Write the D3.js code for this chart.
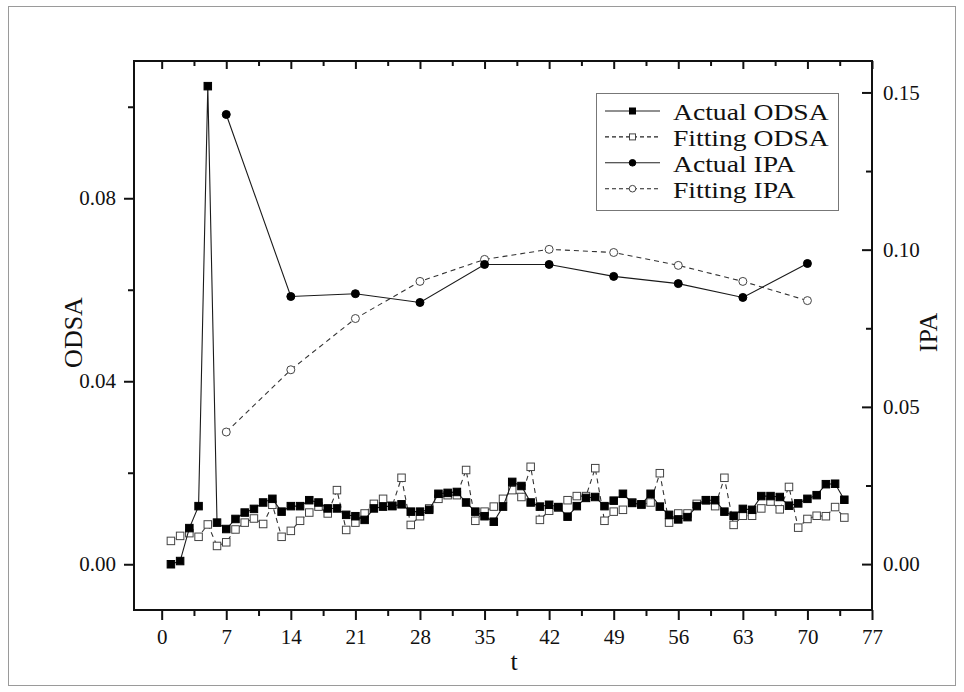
<!DOCTYPE html>
<html>
<head>
<meta charset="utf-8">
<script src="https://cdn.jsdelivr.net/npm/d3@7"></script>
<style>
  body { margin: 0; background: #fff; }
</style>
</head>
<body>
<svg id="chart" width="964" height="692"></svg>
<script>
// ---- data ----
const days = d3.range(1, 75); // t = 1 .. 74

const actualODSA = [
  0.0000, 0.0007, 0.0079, 0.0127, 0.1045, 0.0091, 0.0077, 0.0099, 0.0113, 0.0121,
  0.0135, 0.0143, 0.0115, 0.0127, 0.0127, 0.0140, 0.0135, 0.0122, 0.0122, 0.0108,
  0.0105, 0.0097, 0.0122, 0.0126, 0.0127, 0.0131, 0.0115, 0.0115, 0.0119, 0.0154,
  0.0156, 0.0158, 0.0135, 0.0115, 0.0105, 0.0093, 0.0126, 0.0180, 0.0171, 0.0135,
  0.0126, 0.0130, 0.0125, 0.0104, 0.0127, 0.0145, 0.0147, 0.0127, 0.0139, 0.0154,
  0.0134, 0.0131, 0.0154, 0.0126, 0.0108, 0.0098, 0.0103, 0.0127, 0.0140, 0.0140,
  0.0115, 0.0106, 0.0121, 0.0119, 0.0149, 0.0149, 0.0147, 0.0128, 0.0133, 0.0143,
  0.0151, 0.0175, 0.0176, 0.0141
];

const fittingODSA = [
  0.0051, 0.0062, 0.0068, 0.0060, 0.0087, 0.0040, 0.0048, 0.0076, 0.0091, 0.0100,
  0.0088, 0.0130, 0.0060, 0.0073, 0.0095, 0.0113, 0.0126, 0.0111, 0.0162, 0.0075,
  0.0091, 0.0111, 0.0132, 0.0143, 0.0128, 0.0189, 0.0086, 0.0105, 0.0122, 0.0143,
  0.0151, 0.0151, 0.0206, 0.0095, 0.0115, 0.0126, 0.0143, 0.0162, 0.0147, 0.0213,
  0.0097, 0.0117, 0.0124, 0.0140, 0.0149, 0.0149, 0.0210, 0.0095, 0.0115, 0.0119,
  0.0135, 0.0130, 0.0135, 0.0199, 0.0091, 0.0111, 0.0111, 0.0132, 0.0140, 0.0127,
  0.0189, 0.0086, 0.0106, 0.0106, 0.0122, 0.0137, 0.0120, 0.0169, 0.0080, 0.0099,
  0.0106, 0.0105, 0.0125, 0.0102
];

const ipaDays = [7, 14, 21, 28, 35, 42, 49, 56, 63, 70];
const actualIPA  = [0.1430, 0.0851, 0.0860, 0.0832, 0.0953, 0.0953, 0.0915, 0.0892, 0.0848, 0.0956];
const fittingIPA = [0.0420, 0.0618, 0.0781, 0.0899, 0.0969, 0.1001, 0.0991, 0.0950, 0.0899, 0.0838];

const xMajor = d3.range(0, 78, 7);          // 0, 7, ..., 77
const xMinor = d3.range(3.5, 77, 7);
const odsaMajor = [0.00, 0.04, 0.08];
const odsaMinor = [0.02, 0.06, 0.10];
const ipaMajor = [0.00, 0.05, 0.10, 0.15];
const ipaMinor = [0.025, 0.075, 0.125];

const legendItems = [
  { label: "Actual ODSA",  shape: "square", filled: true,  dashed: false },
  { label: "Fitting ODSA", shape: "square", filled: false, dashed: true  },
  { label: "Actual IPA",   shape: "circle", filled: true,  dashed: false },
  { label: "Fitting IPA",  shape: "circle", filled: false, dashed: true  }
];

// ---- layout ----
const FONT = "'Liberation Serif', 'Times New Roman', Times, serif";
const svg = d3.select("#chart").attr("font-family", FONT);
const W = 964, H = 692;
const plot = { left: 134, right: 872, top: 61, bottom: 610 };

const x = d3.scaleLinear().domain([-3, 77]).range([plot.left, plot.right]);
const yL = d3.scaleLinear().domain([-0.01, 0.11]).range([plot.bottom, plot.top]);
const yR = d3.scaleLinear().domain([-0.0146, 0.16]).range([plot.bottom, plot.top]);

// outer figure border
svg.append("rect")
  .attr("x", 8.5).attr("y", 6.5).attr("width", W - 17).attr("height", H - 13)
  .attr("fill", "none").attr("stroke", "#9a9a9a").attr("stroke-width", 1);

// ---- axes ----
function styleAxis(g) {
  g.attr("font-family", FONT);
  g.select(".domain").remove();
  g.selectAll(".tick line").attr("stroke", "#111").attr("stroke-width", 2);
  g.selectAll(".tick text")
    .style("font-family", FONT).style("font-size", "21px").attr("fill", "#111");
}

// bottom
svg.append("g").attr("transform", `translate(0,${plot.bottom})`)
  .call(d3.axisBottom(x).tickValues(xMajor).tickSize(10).tickPadding(9).tickFormat(d3.format("d")))
  .call(styleAxis);
svg.append("g").attr("transform", `translate(0,${plot.bottom})`)
  .call(d3.axisBottom(x).tickValues(xMinor).tickSize(6).tickFormat(""))
  .call(styleAxis);
// top (mirror, inward)
svg.append("g").attr("transform", `translate(0,${plot.top})`)
  .call(d3.axisBottom(x).tickValues(xMajor).tickSize(8).tickFormat(""))
  .call(styleAxis);
svg.append("g").attr("transform", `translate(0,${plot.top})`)
  .call(d3.axisBottom(x).tickValues(xMinor).tickSize(5).tickFormat(""))
  .call(styleAxis);
// left: ODSA
svg.append("g").attr("transform", `translate(${plot.left},0)`)
  .call(d3.axisLeft(yL).tickValues(odsaMajor).tickSize(10).tickPadding(8).tickFormat(d3.format(".2f")))
  .call(styleAxis);
svg.append("g").attr("transform", `translate(${plot.left},0)`)
  .call(d3.axisLeft(yL).tickValues(odsaMinor).tickSize(6).tickFormat(""))
  .call(styleAxis);
// right: IPA (ticks point inward, labels outside)
const rightMajor = svg.append("g").attr("transform", `translate(${plot.right},0)`)
  .call(d3.axisRight(yR).tickValues(ipaMajor).tickSize(-10).tickFormat(d3.format(".2f")))
  .call(styleAxis);
rightMajor.selectAll(".tick text").attr("x", 11);
svg.append("g").attr("transform", `translate(${plot.right},0)`)
  .call(d3.axisRight(yR).tickValues(ipaMinor).tickSize(-6).tickFormat(""))
  .call(styleAxis);

// plot frame
svg.append("rect")
  .attr("x", plot.left).attr("y", plot.top)
  .attr("width", plot.right - plot.left).attr("height", plot.bottom - plot.top)
  .attr("fill", "none").attr("stroke", "#111").attr("stroke-width", 2);

// axis titles
function title(sel) {
  return sel.style("font-family", FONT).style("font-size", "26px").attr("fill", "#111")
    .attr("text-anchor", "middle");
}
svg.append("text").attr("x", 514).attr("y", 670).call(title).text("t");
svg.append("text")
  .attr("transform", `translate(82,${(plot.top + plot.bottom) / 2 - 3}) rotate(-90)`)
  .call(title).text("ODSA");
svg.append("text")
  .attr("transform", `translate(937,${(plot.top + plot.bottom) / 2 - 3}) rotate(-90)`)
  .call(title).text("IPA");

// ---- series ----
const odsaActual = days.map((t, i) => ({ t, v: actualODSA[i] }));
const odsaFit = days.map((t, i) => ({ t, v: fittingODSA[i] }));
const ipaActual = ipaDays.map((t, i) => ({ t, v: actualIPA[i] }));
const ipaFit = ipaDays.map((t, i) => ({ t, v: fittingIPA[i] }));

const lineL = d3.line().x(d => x(d.t)).y(d => yL(d.v));
const lineR = d3.line().x(d => x(d.t)).y(d => yR(d.v));

const sq = 7.5, circR = 4;

function drawSeries(data, line, yScale, opts) {
  svg.append("path").datum(data)
    .attr("d", line)
    .attr("fill", "none")
    .attr("stroke", opts.dashed ? "#333" : "#1a1a1a")
    .attr("stroke-width", 1.1)
    .attr("stroke-dasharray", opts.dashed ? "5,4" : null);
  const g = svg.append("g");
  if (opts.shape === "square") {
    g.selectAll("rect").data(data).join("rect")
      .attr("x", d => x(d.t) - sq / 2).attr("y", d => yScale(d.v) - sq / 2)
      .attr("width", sq).attr("height", sq)
      .attr("fill", opts.filled ? "#000" : "#fff")
      .attr("stroke", opts.filled ? "#000" : "#444").attr("stroke-width", 1);
  } else {
    g.selectAll("circle").data(data).join("circle")
      .attr("cx", d => x(d.t)).attr("cy", d => yScale(d.v)).attr("r", circR)
      .attr("fill", opts.filled ? "#000" : "#fff")
      .attr("stroke", opts.filled ? "#000" : "#444").attr("stroke-width", 1);
  }
}

drawSeries(odsaFit, lineL, yL, { shape: "square", filled: false, dashed: true });
drawSeries(odsaActual, lineL, yL, { shape: "square", filled: true, dashed: false });
drawSeries(ipaFit, lineR, yR, { shape: "circle", filled: false, dashed: true });
drawSeries(ipaActual, lineR, yR, { shape: "circle", filled: true, dashed: false });

// ---- legend ----
const lg = svg.append("g");
lg.append("rect")
  .attr("x", 596.5).attr("y", 93.5).attr("width", 242).attr("height", 117)
  .attr("fill", "#fff").attr("stroke", "#777").attr("stroke-width", 1);

legendItems.forEach((it, i) => {
  const base = 120 + i * 25.9;
  const cy = base - 9;
  lg.append("line")
    .attr("x1", 605).attr("x2", 660).attr("y1", cy).attr("y2", cy)
    .attr("stroke", "#222").attr("stroke-width", 1.1)
    .attr("stroke-dasharray", it.dashed ? "4,3" : null);
  if (it.shape === "square") {
    const s = 6;
    lg.append("rect").attr("x", 632.5 - s / 2).attr("y", cy - s / 2)
      .attr("width", s).attr("height", s)
      .attr("fill", it.filled ? "#000" : "#fff").attr("stroke", it.filled ? "#000" : "#444");
  } else {
    lg.append("circle").attr("cx", 632.5).attr("cy", cy).attr("r", 3.3)
      .attr("fill", it.filled ? "#000" : "#fff").attr("stroke", it.filled ? "#000" : "#444");
  }
  const txt = lg.append("text").attr("x", 673).attr("y", base)
    .style("font-family", FONT).style("font-size", "24px").attr("fill", "#111")
    .text(it.label);
  const w = txt.node().getComputedTextLength();
  txt.attr("textLength", w * 1.15).attr("lengthAdjust", "spacingAndGlyphs");
});
</script>
</body>
</html>
